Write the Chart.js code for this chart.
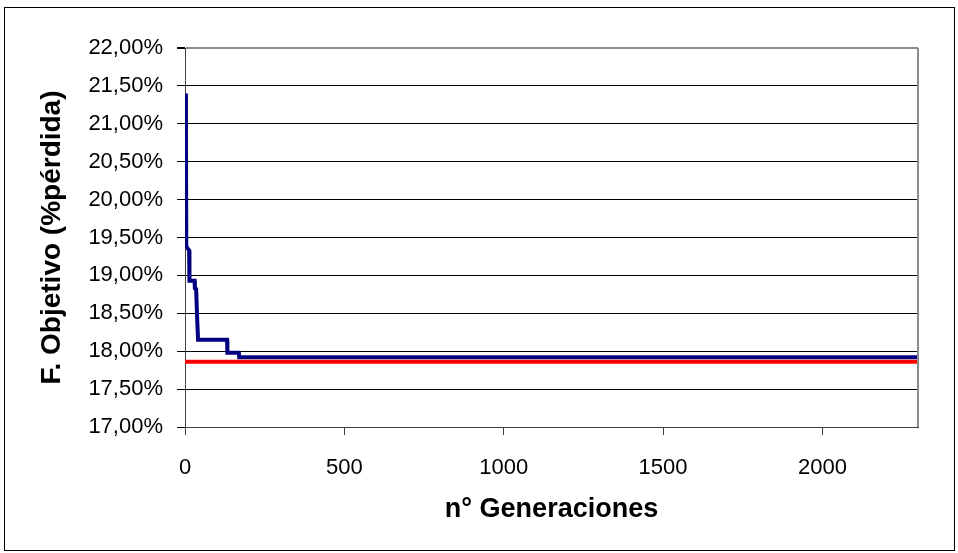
<!DOCTYPE html>
<html>
<head>
<meta charset="utf-8">
<script src="https://cdn.jsdelivr.net/npm/chart.js@4/dist/chart.umd.min.js"></script>
<style>
  html, body { margin: 0; padding: 0; background: #ffffff; }
  #wrap { width: 958px; height: 553px; }
</style>
</head>
<body>
<div id="wrap"><canvas id="c" width="958" height="553"></canvas></div>
<script>
// ---- data ----
const generaciones = [1, 3, 4, 13, 14, 30, 31, 35, 38, 41, 132, 133, 169, 170, 2300];
const fObjetivo    = [21.40, 20.90, 19.38, 19.33, 18.93, 18.93, 18.83, 18.82, 18.45, 18.15, 18.15, 17.98, 17.98, 17.92, 17.92];
const refGeneraciones = [0, 2300];
const refValor        = [17.86, 17.86];
const xTickValues = [0, 500, 1000, 1500, 2000];
const yTickValues = [17, 17.5, 18, 18.5, 19, 19.5, 20, 20.5, 21, 21.5, 22];
const yTitle = 'F. Objetivo (%pérdida)';
const xTitle = 'n° Generaciones';
const yMin = 17, yMax = 22;
const xMin = 0, xMax = 2300;

const blueData = generaciones.map((g, i) => ({ x: g, y: fObjetivo[i] }));
const redData = refGeneraciones.map((g, i) => ({ x: g, y: refValor[i] }));

const FONT = "'Liberation Sans', Arial, sans-serif";

const framePlugin = {
  id: 'frame',
  beforeDraw(chart) {
    const ctx = chart.ctx;
    ctx.save();
    ctx.fillStyle = '#ffffff';
    ctx.fillRect(0, 0, chart.width, chart.height);
    ctx.strokeStyle = '#000000';
    ctx.lineWidth = 1;
    ctx.strokeRect(4.5, 7.5, 950, 543);
    ctx.restore();
  },
  afterDraw(chart) {
    const a = chart.chartArea;
    const ctx = chart.ctx;
    ctx.save();
    ctx.strokeStyle = '#8c8c8c';
    ctx.lineWidth = 2;
    ctx.beginPath();
    ctx.moveTo(a.right, a.top);
    ctx.lineTo(a.right, a.bottom);
    ctx.stroke();
    ctx.restore();
  }
};

new Chart(document.getElementById('c'), {
  type: 'line',
  data: {
    datasets: [
      {
        label: 'Referencia',
        data: redData,
        borderColor: '#ff0000',
        borderWidth: 4,
        pointRadius: 0,
        fill: false,
        order: 1
      },
      {
        label: 'F. Objetivo',
        data: blueData,
        borderColor: '#000080',
        borderWidth: 4,
        pointRadius: 0,
        fill: false,
        tension: 0,
        order: 2
      }
    ]
  },
  options: {
    responsive: false,
    devicePixelRatio: 1,
    animation: false,
    layout: { padding: { top: 48, right: 40, bottom: 0, left: 0 } },
    plugins: { legend: { display: false }, tooltip: { enabled: false } },
    scales: {
      x: {
        type: 'linear',
        min: xMin, max: xMax,
        afterBuildTicks(s) { s.ticks = xTickValues.map(v => ({ value: v })); },
        afterFit(s) { s.height = 126; },
        border: { display: true, color: '#404040', width: 1 },
        grid: { drawOnChartArea: false, drawTicks: true, tickLength: 8, color: '#404040' },
        ticks: {
          maxRotation: 0, autoSkip: false,
          color: '#000000', padding: 20,
          font: { family: FONT, size: 22 },
          callback: (v) => String(v)
        },
        title: {
          display: true, text: xTitle, color: '#000000',
          font: { family: FONT, size: 27, weight: 'bold', lineHeight: 1.2 },
          padding: { top: 0, bottom: 27 }
        }
      },
      y: {
        type: 'linear',
        min: yMin, max: yMax,
        afterBuildTicks(s) { s.ticks = yTickValues.map(v => ({ value: v })); },
        afterFit(s) { s.width = 185; },
        border: { display: true, color: '#404040', width: 1 },
        grid: {
          drawTicks: true, tickLength: 8,
          color: (c) => (c.tick && c.tick.value === yMax) ? '#8c8c8c' : '#000000',
          lineWidth: (c) => (c.tick && c.tick.value === yMax) ? 2 : 1,
          tickColor: '#000000'
        },
        ticks: {
          color: '#000000', padding: 14, autoSkip: false,
          font: { family: FONT, size: 22 },
          callback: (v) => Number(v).toFixed(2).replace('.', ',') + '%'
        },
        title: {
          display: true, text: yTitle, color: '#000000',
          font: { family: FONT, size: 28, weight: 'bold', lineHeight: 1.2 },
          padding: { top: 35, bottom: 0 }
        }
      }
    }
  },
  plugins: [framePlugin]
});
</script>
</body>
</html>
